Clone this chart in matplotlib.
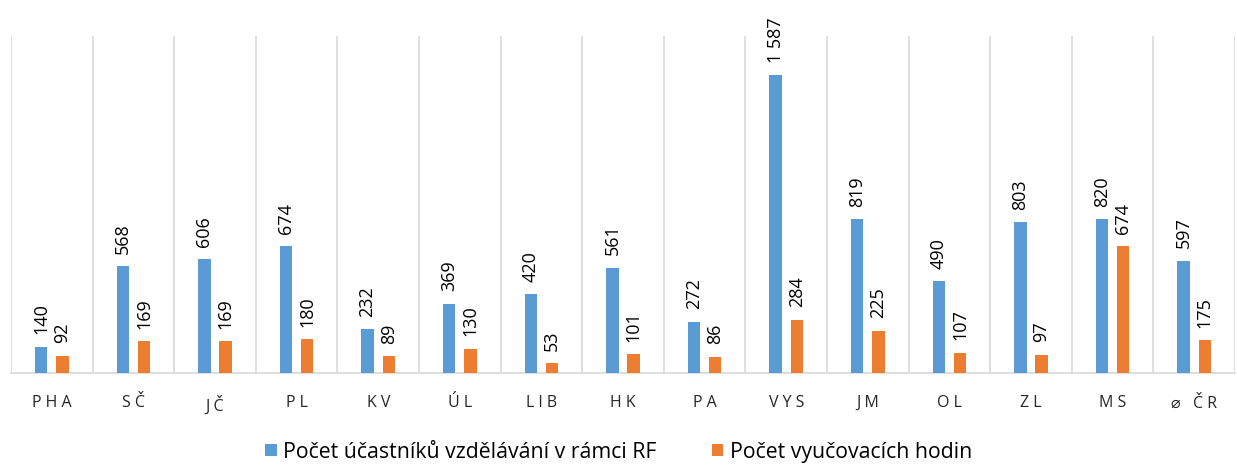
import matplotlib
matplotlib.use("Agg")
import matplotlib.pyplot as plt
import numpy as np

categories = ["PHA", "SČ", "JČ", "PL", "KV", "ÚL", "LIB", "HK", "PA", "VYS", "JM", "OL", "ZL", "MS", "⌀ ČR"]
participants = [140, 568, 606, 674, 232, 369, 420, 561, 272, 1587, 819, 490, 803, 820, 597]
hours = [92, 169, 169, 180, 89, 130, 53, 101, 86, 284, 225, 107, 97, 674, 175]
series_names = ["Počet účastníků vzdělávání v rámci RF", "Počet vyučovacích hodin"]

blue = "#5B9BD5"
orange = "#ED7D31"

plt.rcParams['font.family'] = ['Open Sans', 'DejaVu Sans']

fig = plt.figure(figsize=(12.37, 4.65), dpi=100)
ax = fig.add_axes([11/1237, (465-373)/465, (1235-11)/1237, (373-36)/465])

x = np.arange(len(categories))
w = 0.15
off = 0.13
b1 = ax.bar(x - off, participants, w, color=blue, label=series_names[0], zorder=3)
b2 = ax.bar(x + off, hours, w, color=orange, label=series_names[1], zorder=3)

def fmt(v):
    return f"{v:,}".replace(",", " ")

for bars, vals in ((b1, participants), (b2, hours)):
    for r, v in zip(bars, vals):
        ax.annotate(fmt(v), (r.get_x() + r.get_width()/2, r.get_height()),
                    xytext=(0, 9), textcoords="offset points",
                    rotation=90, ha="center", va="bottom", fontsize=13, color="#000000",
                    annotation_clip=False)

ax.set_xlim(-0.5, len(categories) - 0.5)
ax.set_ylim(0, 1795)
for b in np.arange(-0.5, len(categories) + 0.5, 1.0):
    ax.axvline(b, color="#D9D9D9", lw=1.2, zorder=1)

ax.set_yticks([])
for s in ["top", "right", "left"]:
    ax.spines[s].set_visible(False)
ax.spines["bottom"].set_color("#D9D9D9")
ax.spines["bottom"].set_linewidth(1.2)

def spaced(c):
    if c.startswith("⌀"):
        return "⌀   Č R"
    return " ".join(list(c))

ax.set_xticks(x)
ax.set_xticklabels([spaced(c) for c in categories], fontsize=11.5, color="#262626")
ax.tick_params(axis="x", length=0, pad=16)

fig.legend(handles=[b1, b2], labels=series_names, loc="center", bbox_to_anchor=(0.5, 1 - 452/465),
           ncol=2, frameon=False, fontsize=15.3, handlelength=0.55, handleheight=0.55,
           columnspacing=2.6, handletextpad=0.3)

fig.savefig("out.png", dpi=100)
